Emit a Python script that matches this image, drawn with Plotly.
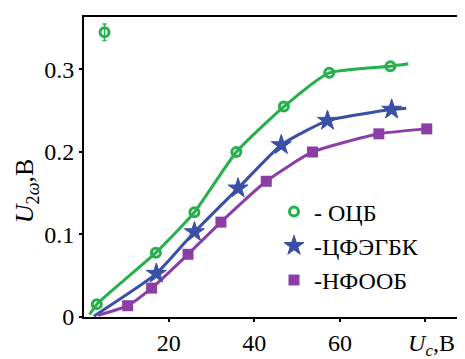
import plotly.graph_objects as go

# Data
ocb_x = [3.2, 17.0, 26.0, 35.8, 46.9, 57.5, 71.8]
ocb_y = [0.0156, 0.078, 0.127, 0.200, 0.255, 0.296, 0.304]
ocb_line_x = [1.5, 3.2, 17.0, 26.0, 35.8, 46.9, 57.5, 71.8, 76.0]
ocb_line_y = [0.003, 0.0156, 0.078, 0.127, 0.200, 0.255, 0.296, 0.304, 0.307]
ocb_outlier_x = [5.0]
ocb_outlier_y = [0.345]
ocb_outlier_err = [0.010]

cf_x = [17.1, 26.0, 36.2, 46.3, 57.1, 72.1]
cf_y = [0.0526, 0.103, 0.156, 0.2085, 0.238, 0.2515]
cf_line_x = [2.5, 17.1, 26.0, 36.2, 46.3, 57.1, 72.1, 75.5]
cf_line_y = [0.001, 0.0526, 0.103, 0.156, 0.2085, 0.238, 0.2515, 0.253]

nf_x = [10.4, 16.0, 24.5, 32.2, 42.8, 53.6, 69.1, 80.3]
nf_y = [0.0137, 0.035, 0.076, 0.115, 0.1645, 0.200, 0.222, 0.228]
nf_line_x = [3.5, 10.4, 16.0, 24.5, 32.2, 42.8, 53.6, 69.1, 80.3]
nf_line_y = [0.002, 0.0137, 0.035, 0.076, 0.115, 0.1645, 0.200, 0.222, 0.228]

x_tickvals = [20, 40, 60, 80]
x_ticktext = ["20", "40", "60", "\u2002<i>U<sub>c</sub></i>,B"]
y_tickvals = [0, 0.1, 0.2, 0.3]
y_ticktext = ["0", "0.1", "0.2", "0.3"]

names = ["- ОЦБ", "-ЦФЭГБК", "-НФООБ"]

GREEN = "#25b04b"
BLUE = "#3a4fa8"
PURPLE = "#8b3fa6"
FONT = "'Liberation Serif', 'Times New Roman', Tinos, 'DejaVu Serif', serif"

fig = go.Figure()

# lines
for lx, ly, c in [(ocb_line_x, ocb_line_y, GREEN), (cf_line_x, cf_line_y, BLUE), (nf_line_x, nf_line_y, PURPLE)]:
    fig.add_trace(go.Scatter(x=lx, y=ly, mode="lines", line=dict(color=c, width=3, shape="spline", smoothing=0.5),
                             showlegend=False, hoverinfo="skip"))

# markers
fig.add_trace(go.Scatter(x=ocb_x, y=ocb_y, mode="markers", name=names[0],
                         marker=dict(symbol="circle-open", size=9, color=GREEN, line=dict(width=3, color=GREEN))))
fig.add_trace(go.Scatter(x=cf_x, y=cf_y, mode="markers", name=names[1],
                         marker=dict(symbol="star", size=15, color=BLUE, line=dict(width=1, color=BLUE))))
fig.add_trace(go.Scatter(x=nf_x, y=nf_y, mode="markers", name=names[2],
                         marker=dict(symbol="square", size=11, color=PURPLE)))
fig.add_trace(go.Scatter(x=ocb_outlier_x, y=ocb_outlier_y, mode="markers", showlegend=False,
                         marker=dict(symbol="circle-open", size=9, color=GREEN, line=dict(width=3, color=GREEN)),
                         error_y=dict(type="data", array=ocb_outlier_err, color=GREEN, thickness=1.5, width=2)))

axis_common = dict(showline=True, linecolor="black", linewidth=2, mirror=True, showgrid=False,
                   zeroline=False, ticks="outside", ticklen=3, tickwidth=1.5, tickcolor="black",
                   tickfont=dict(family=FONT, size=24, color="black"))

fig.update_xaxes(range=[0.2, 89], tickvals=x_tickvals, ticktext=x_ticktext, **axis_common)
fig.update_yaxes(range=[0, 0.3636], tickvals=y_tickvals, ticktext=y_ticktext, **axis_common)

fig.add_annotation(text="<i>U</i><sub>2<i>ω</i></sub>,B", textangle=-90, xref="paper", yref="paper",
                   x=-0.152, y=0.42, xanchor="center", yanchor="middle", showarrow=False,
                   font=dict(family=FONT, size=26, color="black"))

fig.update_layout(
    width=465, height=359,
    margin=dict(l=76, r=8, t=7, b=39),
    paper_bgcolor="white", plot_bgcolor="white",
    font=dict(family=FONT),
    legend=dict(x=0.50, y=0.425, xanchor="left", yanchor="top", bgcolor="rgba(0,0,0,0)",
                font=dict(family=FONT, size=24, color="black"), itemwidth=30, tracegroupgap=0),
)

fig.write_html("out.html")
